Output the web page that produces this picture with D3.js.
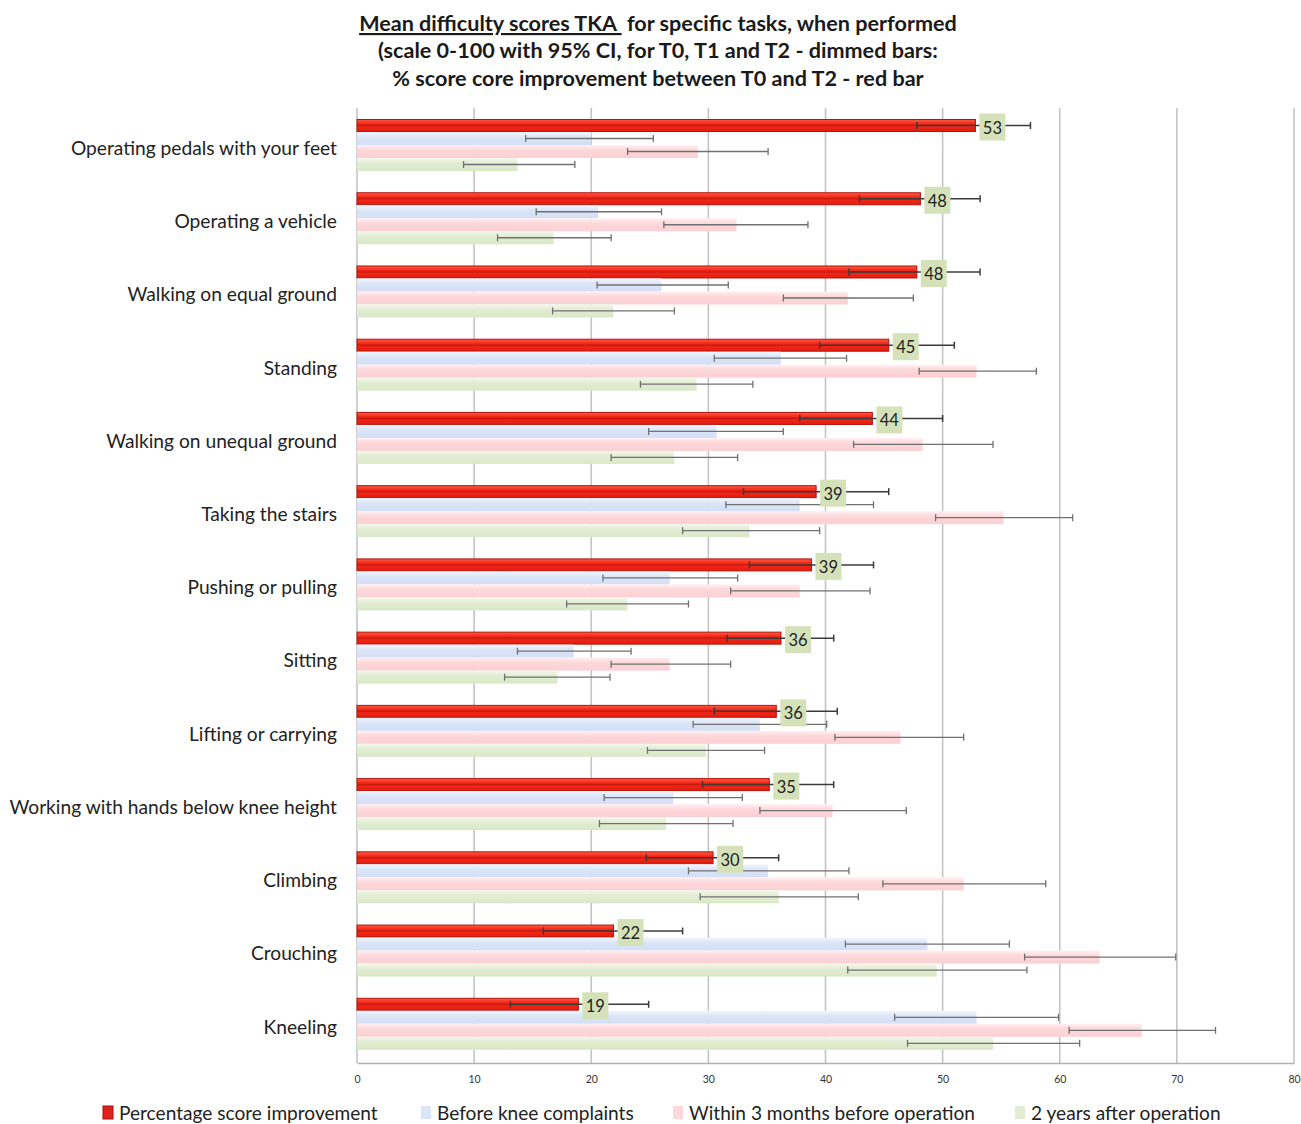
<!DOCTYPE html>
<html>
<head>
<meta charset="utf-8">
<script src="https://cdn.jsdelivr.net/npm/d3@7"></script>
<style>
  body { margin: 0; background: #fff; }
  svg text { font-family: Lato, "Open Sans", sans-serif; }
</style>
</head>
<body>
<div id="chart-area"></div>
<script>
(() => {

  // categories, top to bottom
  const tasks = [
    'Operating pedals with your feet', 'Operating a vehicle', 'Walking on equal ground',
    'Standing', 'Walking on unequal ground', 'Taking the stairs', 'Pushing or pulling',
    'Sitting', 'Lifting or carrying', 'Working with hands below knee height',
    'Climbing', 'Crouching', 'Kneeling',
  ];

  const seriesNames = [
    'Percentage score improvement', 'Before knee complaints',
    'Within 3 months before operation', '2 years after operation',
  ];

  // % score improvement T0 -> T2 (red) with CI bounds
  const improvement = [52.8, 48.1, 47.8, 45.4, 44.0, 39.2, 38.8, 36.2, 35.8, 35.2, 30.4, 21.9, 18.9];
  const improvementLo = [47.8, 42.9, 42.0, 39.5, 37.8, 33.0, 33.5, 31.6, 30.5, 29.5, 24.7, 15.9, 13.1];
  const improvementHi = [57.5, 53.2, 53.2, 51.0, 50.0, 45.4, 44.1, 40.7, 41.0, 40.7, 36.0, 27.8, 24.9];
  const improvementLabels = [53, 48, 48, 45, 44, 39, 39, 36, 36, 35, 30, 22, 19];

  // before knee complaints
  const before = [20.0, 20.6, 26.0, 36.2, 30.7, 37.8, 26.7, 18.5, 34.4, 27.0, 35.1, 48.7, 52.9];
  const beforeLo = [14.4, 15.3, 20.5, 30.5, 24.9, 31.5, 21.0, 13.7, 28.7, 21.1, 28.3, 41.7, 45.9];
  const beforeHi = [25.3, 26.0, 31.7, 41.8, 36.4, 44.1, 32.5, 23.4, 40.1, 32.9, 42.0, 55.7, 59.9];

  // within 3 months before operation
  const preOp = [29.1, 32.4, 41.9, 52.9, 48.3, 55.2, 37.8, 26.7, 46.4, 40.6, 51.8, 63.4, 67.0];
  const preOpLo = [23.1, 26.2, 36.4, 48.0, 42.4, 49.4, 31.9, 21.7, 40.8, 34.4, 44.9, 57.0, 60.8];
  const preOpHi = [35.1, 38.5, 47.5, 58.0, 54.3, 61.1, 43.8, 31.9, 51.8, 46.9, 58.8, 69.9, 73.3];

  // 2 years after operation
  const postOp = [13.7, 16.8, 21.9, 29.0, 27.1, 33.5, 23.1, 17.1, 29.8, 26.4, 36.0, 49.5, 54.3];
  const postOpLo = [9.1, 12.0, 16.7, 24.2, 21.7, 27.8, 17.9, 12.6, 24.8, 20.7, 29.3, 41.9, 47.0];
  const postOpHi = [18.6, 21.7, 27.1, 33.8, 32.5, 39.5, 28.3, 21.6, 34.8, 32.1, 42.8, 57.2, 61.7];

  const xTicks = [0, 10, 20, 30, 40, 50, 60, 70, 80];

  const widthSvg = 1301;
  const heightSvg = 1124;

  const seriesKeys = ['imp', 'before', 'preOp', 'postOp'];
  const rows = tasks.map((t, i) => ({
    task: t,
    values: [
      { key: 'imp', v: improvement[i], lo: improvementLo[i], hi: improvementHi[i], label: improvementLabels[i] },
      { key: 'before', v: before[i], lo: beforeLo[i], hi: beforeHi[i] },
      { key: 'preOp', v: preOp[i], lo: preOpLo[i], hi: preOpHi[i] },
      { key: 'postOp', v: postOp[i], lo: postOpLo[i], hi: postOpHi[i] },
    ],
  }));

  const scaleX = d3.scaleLinear().domain([0, 80]).range([357, 1294]);
  const scaleY = d3.scaleBand()
    .domain(tasks)
    .range([108.4, 1060.4])
    .paddingInner(0.29)
    .paddingOuter(0.145);
  const scaleSub = d3.scaleBand()
    .domain(seriesKeys)
    .range([0, scaleY.bandwidth()]);

  const svg = d3.select('#chart-area').append('svg')
    .attr('width', widthSvg)
    .attr('height', heightSvg);

  const defs = svg.append('defs');
  const grad = (id, stops) => {
    const g = defs.append('linearGradient').attr('id', id)
      .attr('x1', 0).attr('y1', 0).attr('x2', 0).attr('y2', 1);
    stops.forEach(s => g.append('stop').attr('offset', s[0]).attr('stop-color', s[1]));
  };
  grad('g-imp', [[0, '#ff5a44'], [0.35, '#f42a1a'], [0.5, '#c81810'], [0.62, '#f02616'], [1, '#e01c10']]);
  grad('g-before', [[0, '#f2f6fd'], [0.4, '#dbe5f8'], [1, '#d3dff6']]);
  grad('g-preOp', [[0, '#fff0f1'], [0.4, '#fdd7da'], [1, '#fbd0d4']]);
  grad('g-postOp', [[0, '#f3f8ec'], [0.4, '#e2edd3'], [1, '#d9e8c8']]);

  // title
  const title = svg.append('text')
    .attr('text-anchor', 'middle')
    .attr('font-size', '21.6px')
    .attr('font-weight', 'bold')
    .attr('fill', '#1a1a1a');
  const line1 = title.append('tspan').attr('x', 658).attr('y', 31);
  line1.append('tspan').attr('text-decoration', 'underline').text('Mean difficulty scores TKA\u00a0');
  line1.append('tspan').text(' for specific tasks, when performed');
  title.append('tspan').attr('x', 658).attr('y', 58)
    .text('(scale 0-100 with 95% CI, for T0, T1 and T2 - dimmed bars:');
  title.append('tspan').attr('x', 658).attr('y', 86)
    .text('% score core improvement between T0 and T2 - red bar');

  // grid
  svg.append('g').selectAll('line')
    .data(xTicks)
    .join('line')
      .attr('x1', d => scaleX(d)).attr('x2', d => scaleX(d))
      .attr('y1', 108).attr('y2', 1063)
      .attr('stroke', '#c4c4c4')
      .attr('stroke-width', 1.6);

  // x axis
  const axisX = d3.axisBottom(scaleX).tickValues(xTicks).tickSize(0).tickPadding(13);
  const axisGroupX = svg.append('g')
    .attr('transform', 'translate(0, 1063)')
    .call(axisX);
  axisGroupX.select('.domain').attr('stroke', '#b0b0b0').attr('stroke-width', 1.6);
  axisGroupX.selectAll('text')
    .attr('font-size', '10.5px')
    .attr('fill', '#333')
    .attr('font-family', 'Lato, sans-serif');

  // y category labels
  svg.append('g').selectAll('text')
    .data(tasks)
    .join('text')
      .attr('x', 337)
      .attr('y', d => scaleY(d) + scaleY.bandwidth() / 2 + 5)
      .attr('text-anchor', 'end')
      .attr('dominant-baseline', 'middle')
      .attr('font-size', '19.2px')
      .attr('fill', '#222')
      .text(d => d);

  const groups = svg.append('g').selectAll('g')
    .data(rows)
    .join('g')
      .attr('transform', d => `translate(0, ${scaleY(d.task)})`);

  // dimmed bars first, red on top
  groups.selectAll('rect.bar')
    .data(d => d.values)
    .join('rect')
      .attr('class', 'bar')
      .attr('x', scaleX(0))
      .attr('y', d => scaleSub(d.key) + (d.key === 'imp' ? 0.5 : 0))
      .attr('width', d => scaleX(d.v) - scaleX(0))
      .attr('height', d => scaleSub.bandwidth() - (d.key === 'imp' ? 1 : 0))
      .attr('fill', d => `url(#g-${d.key})`)
      .attr('stroke', d => d.key === 'imp' ? '#b3140c' : 'none')
      .attr('stroke-width', 1);

  // error bars
  const err = groups.selectAll('g.err')
    .data(d => d.values)
    .join('g')
      .attr('class', 'err')
      .attr('stroke', d => d.key === 'imp' ? '#3e3a38' : '#707070')
      .attr('stroke-width', d => d.key === 'imp' ? 1.5 : 1.3);
  const midY = d => scaleSub(d.key) + scaleSub.bandwidth() / 2;
  err.append('line')
    .attr('x1', d => scaleX(d.lo)).attr('x2', d => scaleX(d.hi))
    .attr('y1', midY).attr('y2', midY);
  err.append('line')
    .attr('x1', d => scaleX(d.lo)).attr('x2', d => scaleX(d.lo))
    .attr('y1', d => midY(d) - 3.5).attr('y2', d => midY(d) + 3.5);
  err.append('line')
    .attr('x1', d => scaleX(d.hi)).attr('x2', d => scaleX(d.hi))
    .attr('y1', d => midY(d) - 3.5).attr('y2', d => midY(d) + 3.5);

  // value boxes on red bars
  const labelG = groups.append('g')
    .datum(d => d.values[0]);
  labelG.append('rect')
    .attr('x', d => scaleX(d.v) + 4)
    .attr('y', d => midY(d) - 12)
    .attr('width', 26)
    .attr('height', 27)
    .attr('fill', '#d5e2b9');
  labelG.append('text')
    .attr('x', d => scaleX(d.v) + 17)
    .attr('y', d => midY(d) + 8)
    .attr('text-anchor', 'middle')
    .attr('font-size', '16.5px')
    .attr('fill', '#222')
    .text(d => d.label);

  // legend
  const legendX = [103, 421, 673, 1015];
  const legendFill = ['#e0201a', '#dbe5f8', '#fdd7da', '#e2edd3'];
  const legend = svg.append('g').selectAll('g')
    .data(seriesNames)
    .join('g')
      .attr('transform', (d, i) => `translate(${legendX[i]}, 1113)`);
  legend.append('rect')
    .attr('x', 0).attr('y', -7)
    .attr('width', 10).attr('height', 13)
    .attr('fill', (d, i) => legendFill[i])
    .attr('stroke', (d, i) => i === 0 ? '#a01010' : 'none');
  legend.append('text')
    .attr('x', 16)
    .attr('y', 2)
    .attr('dominant-baseline', 'middle')
    .attr('font-size', '19.1px')
    .attr('fill', '#222')
    .text(d => d);

})();
</script>
</body>
</html>
